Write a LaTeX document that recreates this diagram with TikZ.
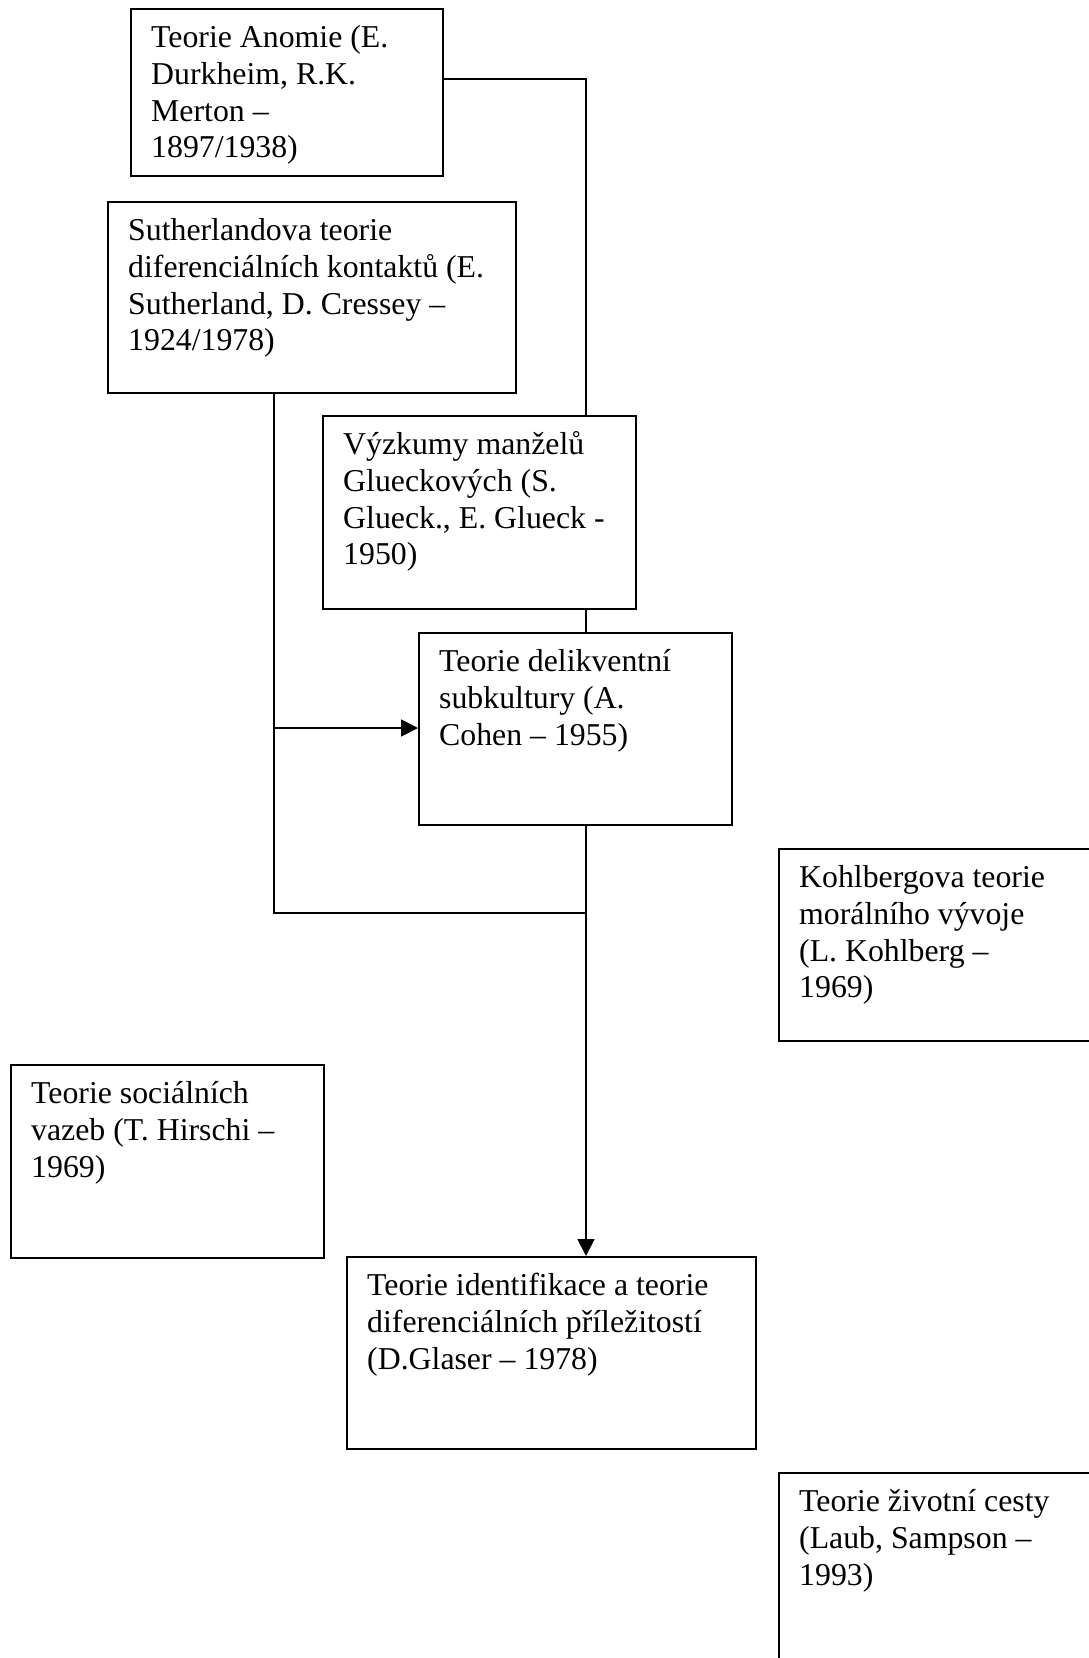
\documentclass[tikz,border=0pt]{standalone}
\usepackage{fontspec}
\setmainfont{Liberation Serif}
\usetikzlibrary{arrows.meta}
\tikzset{
  box/.style={draw, line width=1.8pt, rectangle, inner sep=0pt, anchor=north west},
  txt/.style={anchor=north west, inner sep=0pt, align=left, font=\fontsize{31.8}{36.8}\selectfont, xshift=21pt, yshift=-13.6pt},
  conn/.style={line width=1.8pt},
  arr/.style={line width=1.8pt, -{Triangle[length=17pt, width=17pt]}}
}
\begin{document}
\begin{tikzpicture}[x=1pt, y=-1pt]
\useasboundingbox (0,0) rectangle (1089,1658);
\clip (0,0) rectangle (1089,1658);
% boxes
\node[box, minimum width=312pt, minimum height=167pt] (anomie) at (130,8) {};
\node[txt] (tanomie) at (anomie.north west) {\strut Teorie Anomie (E.\\ Durkheim, R.K.\\ Merton –\\ 1897/1938)};
\node[box, minimum width=408pt, minimum height=191pt] (suth) at (107,201) {};
\node[txt] (tsuth) at (suth.north west) {\strut Sutherlandova teorie\\ diferenciálních kontaktů (E.\\ Sutherland, D. Cressey –\\ 1924/1978)};
\node[box, minimum width=313pt, minimum height=193pt] (glueck) at (322,415) {};
\node[txt] (tglueck) at (glueck.north west) {\strut Výzkumy manželů\\ Glueckových (S.\\ Glueck., E. Glueck -\\ 1950)};
\node[box, minimum width=313pt, minimum height=192pt] (cohen) at (418,632) {};
\node[txt] (tcohen) at (cohen.north west) {\strut Teorie delikventní\\ subkultury (A.\\ Cohen – 1955)};
\node[box, minimum width=330pt, minimum height=192pt] (kohl) at (778,848) {};
\node[txt] (tkohl) at (kohl.north west) {\strut Kohlbergova teorie\\ morálního vývoje\\ (L. Kohlberg –\\ 1969)};
\node[box, minimum width=313pt, minimum height=193pt] (hirschi) at (10,1064) {};
\node[txt] (thirschi) at (hirschi.north west) {\strut Teorie sociálních\\ vazeb (T. Hirschi –\\ 1969)};
\node[box, minimum width=409pt, minimum height=192pt] (glaser) at (346,1256) {};
\node[txt] (tglaser) at (glaser.north west) {\strut Teorie identifikace a teorie\\ diferenciálních příležitostí\\ (D.Glaser – 1978)};
\node[box, minimum width=330pt, minimum height=220pt] (laub) at (778,1472) {};
\node[txt] (tlaub) at (laub.north west) {\strut Teorie životní cesty\\ (Laub, Sampson –\\ 1993)};
% connector points
\coordinate (a1) at (586,79);
\coordinate (s1) at (274,728);
\coordinate (s2) at (274,913);
\coordinate (s3) at (586,913);
% connectors
\draw[conn] (anomie.east |- a1) -- (a1) -- (a1 |- glueck.north);
\draw[conn] (a1 |- glueck.south) -- (a1 |- cohen.north);
\draw[conn] (s1 |- suth.south) -- (s2) -- (s3);
\draw[arr] (s1) -- (s1 -| cohen.west);
\draw[arr] (a1 |- cohen.south) -- (a1 |- glaser.north);
\end{tikzpicture}
\end{document}
